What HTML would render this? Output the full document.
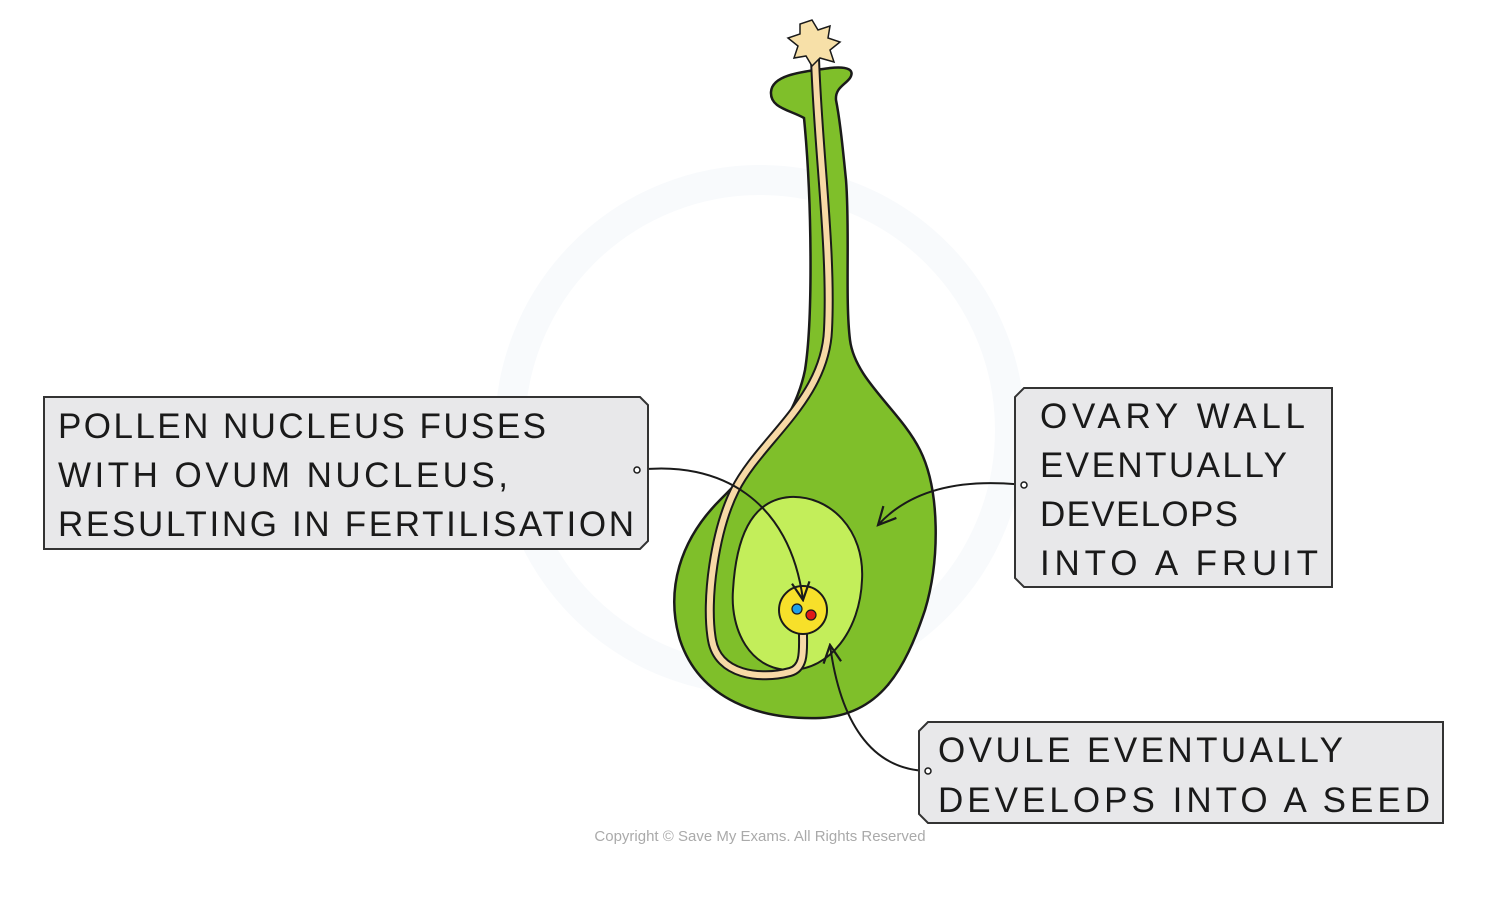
<!DOCTYPE html>
<html><head><meta charset="utf-8"><style>
html,body{margin:0;padding:0;background:#fff;width:1504px;height:904px;overflow:hidden}
svg{display:block}
text{font-family:"Liberation Sans","DejaVu Sans",sans-serif;font-size:35px;fill:#1a1a1a}
</style></head><body>
<svg width="1504" height="904" viewBox="0 0 1504 904" xmlns="http://www.w3.org/2000/svg">
<defs>
<marker id="ah" viewBox="0 0 20 20" refX="18" refY="10" markerWidth="22" markerHeight="22" markerUnits="userSpaceOnUse" orient="auto">
<path d="M2,2 L18,10 L2,18" fill="none" stroke="#1a1a1a" stroke-width="2"/>
</marker>
</defs>
<!-- faint watermark -->
<circle cx="760" cy="430" r="250" fill="none" stroke="#f8fafc" stroke-width="30"/>
<!-- ovary -->
<path d="M804,118 C790,110 770,108 771,92 C772,75 800,72 830,68 C848,66 855,70 850,78 C845,85 835,88 836,100 C840,120 843,150 846,180 C850,230 845,300 850,340 C855,380 900,410 920,450 C940,490 940,560 925,610 C905,670 880,715 820,718 C760,720 700,700 680,640 C665,590 680,540 720,500 C760,460 795,420 805,370 C813,320 812,200 804,118 Z" fill="#7fbf2a" stroke="#1a1a1a" stroke-width="2.5"/>
<path d="M790,497 C830,495 865,530 862,580 C860,630 830,670 790,670 C750,670 730,630 733,590 C736,540 750,500 790,497 Z" fill="#c3ee5a" stroke="#1a1a1a" stroke-width="2"/>
<!-- pollen tube -->
<path d="M815,58 C818,150 832,250 828,330 C825,400 760,440 735,490 C715,530 705,600 712,640 C718,675 760,680 790,672 C805,668 803,650 803,634" fill="none" stroke="#1a1a1a" stroke-width="10" stroke-linecap="round"/>
<path d="M815,58 C818,150 832,250 828,330 C825,400 760,440 735,490 C715,530 705,600 712,640 C718,675 760,680 790,672 C805,668 803,650 803,634" fill="none" stroke="#f7d9a6" stroke-width="6" stroke-linecap="round"/>
<!-- pollen grain -->
<path d="M812,20 L818,30 L830,26 L828,38 L840,42 L830,50 L834,62 L820,58 L812,66 L806,56 L794,58 L798,46 L788,38 L800,34 L800,24 Z" fill="#f7e0a8" stroke="#1a1a1a" stroke-width="1.5"/>
<!-- egg -->
<circle cx="803" cy="610" r="24" fill="#f7e02a" stroke="#1a1a1a" stroke-width="2"/>
<circle cx="797" cy="609" r="5" fill="#1ea0e8" stroke="#1a1a1a" stroke-width="1.2"/>
<circle cx="811" cy="615" r="5" fill="#e01818" stroke="#1a1a1a" stroke-width="1.2"/>
<!-- arrows -->
<path d="M637,470 C720,460 790,500 803,600" fill="none" stroke="#1a1a1a" stroke-width="2" marker-end="url(#ah)"/>
<path d="M1024,485 C960,478 910,490 878,525" fill="none" stroke="#1a1a1a" stroke-width="2" marker-end="url(#ah)"/>
<path d="M928,771 C870,770 840,720 830,645" fill="none" stroke="#1a1a1a" stroke-width="2" marker-end="url(#ah)"/>
<!-- boxes -->
<path d="M44,397 L640,397 L648,405 L648,541 L640,549 L44,549 Z" fill="#e8e8ea" stroke="#333" stroke-width="2"/>
<path d="M1024,388 L1332,388 L1332,587 L1024,587 L1015,578 L1015,397 Z" fill="#e8e8ea" stroke="#333" stroke-width="2"/>
<path d="M928,722 L1443,722 L1443,823 L928,823 L919,814 L919,731 Z" fill="#e8e8ea" stroke="#333" stroke-width="2"/>
<circle cx="637" cy="470" r="3" fill="#fff" stroke="#1a1a1a" stroke-width="1.5"/>
<circle cx="1024" cy="485" r="3" fill="#fff" stroke="#1a1a1a" stroke-width="1.5"/>
<circle cx="928" cy="771" r="3" fill="#fff" stroke="#1a1a1a" stroke-width="1.5"/>
<!-- text -->
<text x="58" y="438" textLength="488" lengthAdjust="spacing">POLLEN  NUCLEUS  FUSES</text>
<text x="58" y="487" textLength="450" lengthAdjust="spacing">WITH  OVUM  NUCLEUS,</text>
<text x="58" y="536" textLength="576" lengthAdjust="spacing">RESULTING  IN  FERTILISATION</text>
<text x="1040" y="428" textLength="265" lengthAdjust="spacing">OVARY  WALL</text>
<text x="1040" y="477" textLength="247" lengthAdjust="spacing">EVENTUALLY</text>
<text x="1040" y="526" textLength="198" lengthAdjust="spacing">DEVELOPS</text>
<text x="1040" y="575" textLength="278" lengthAdjust="spacing">INTO  A  FRUIT</text>
<text x="938" y="762" textLength="405" lengthAdjust="spacing">OVULE  EVENTUALLY</text>
<text x="938" y="812" textLength="492" lengthAdjust="spacing">DEVELOPS  INTO  A  SEED</text>
<text x="760" y="841" text-anchor="middle" style="font-size:15px;fill:#aaa">Copyright © Save My Exams. All Rights Reserved</text>
</svg>
</body></html>
